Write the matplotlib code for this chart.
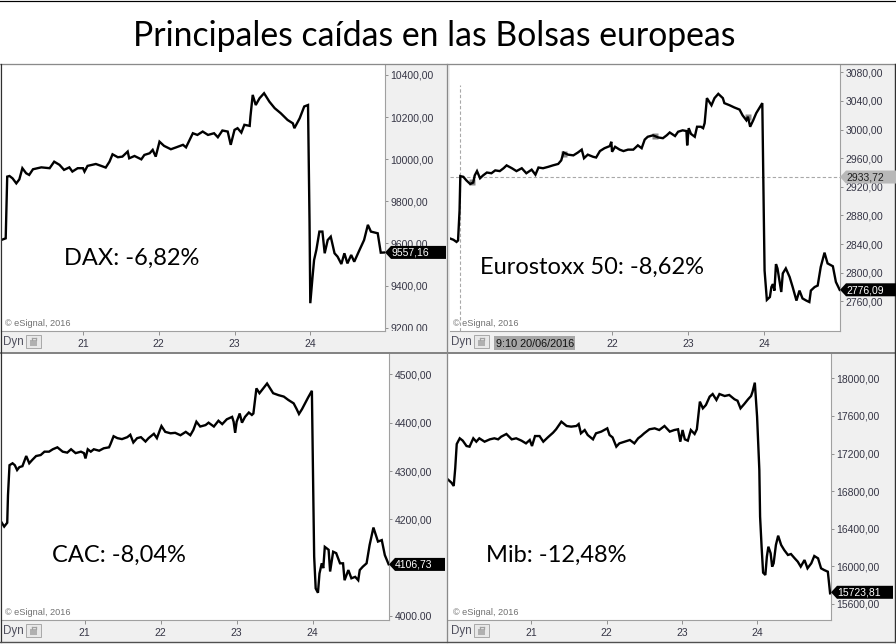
import matplotlib
matplotlib.use("Agg")
import matplotlib.pyplot as plt
import matplotlib.transforms as mtransforms
from matplotlib.patches import Rectangle, Polygon
from matplotlib.lines import Line2D

# ---------------------------------------------------------------- data
title = "Principales caídas en las Bolsas europeas"

dax_t = [19.92, 19.98, 20.00, 20.03, 20.07, 20.12, 20.16, 20.20, 20.25, 20.29,
         20.34, 20.45, 20.56, 20.62, 20.69, 20.75, 20.82, 20.86, 20.93, 21.00,
         21.02, 21.06, 21.17, 21.24, 21.30, 21.35, 21.39, 21.46, 21.52, 21.59,
         21.61, 21.68, 21.77, 21.81, 21.88, 21.92, 21.96, 22.01, 22.07, 22.16,
         22.23, 22.32, 22.36, 22.45, 22.51, 22.58, 22.65, 22.73, 22.78, 22.84,
         22.91, 22.95, 23.00, 23.04, 23.09, 23.13, 23.20, 23.21, 23.24, 23.28,
         23.33, 23.39, 23.46, 23.53, 23.61, 23.70, 23.77, 23.79, 23.86, 23.92,
         23.97, 23.99, 24.00, 24.03, 24.05, 24.08, 24.12, 24.16, 24.19, 24.23,
         24.27, 24.32, 24.36, 24.41, 24.45, 24.49, 24.54, 24.58, 24.65, 24.71,
         24.76, 24.80, 24.89, 24.93, 24.99]
dax_v = [9616, 9624, 9917, 9920, 9909, 9885, 9904, 9957, 9933, 9925,
         9952, 9961, 9957, 9988, 9973, 9949, 9961, 9941, 9957, 9957,
         9941, 9968, 9977, 9968, 9960, 9988, 10023, 10009, 10012, 10036,
         10004, 10015, 9999, 10020, 10028, 10044, 10012, 10083, 10063, 10047,
         10056, 10068, 10056, 10123, 10115, 10131, 10115, 10123, 10104, 10136,
         10131, 10068, 10139, 10147, 10126, 10163, 10158, 10202, 10305, 10257,
         10289, 10313, 10273, 10242, 10218, 10186, 10170, 10147, 10194, 10250,
         10257, 9703, 9316, 9442, 9521, 9569, 9656, 9656, 9553, 9616,
         9632, 9553, 9537, 9502, 9553, 9505, 9545, 9513, 9569, 9616,
         9688, 9656, 9648, 9556, 9557]

stx_t = [19.86, 19.91, 19.95, 19.97, 19.99, 20.00, 20.04, 20.08, 20.13, 20.17,
         20.19, 20.22, 20.26, 20.30, 20.35, 20.41, 20.46, 20.52, 20.57, 20.61,
         20.68, 20.74, 20.81, 20.87, 20.94, 20.99, 21.03, 21.09, 21.16, 21.22,
         21.29, 21.33, 21.36, 21.42, 21.49, 21.55, 21.60, 21.63, 21.68, 21.75,
         21.79, 21.84, 21.90, 21.97, 21.99, 22.00, 22.04, 22.10, 22.15, 22.21,
         22.28, 22.34, 22.39, 22.43, 22.47, 22.54, 22.61, 22.67, 22.72, 22.76,
         22.83, 22.87, 22.93, 22.98, 22.99, 23.01, 23.04, 23.09, 23.12, 23.17,
         23.20, 23.22, 23.25, 23.31, 23.35, 23.40, 23.46, 23.48, 23.55, 23.61,
         23.68, 23.72, 23.77, 23.79, 23.82, 23.86, 23.90, 23.94, 23.98, 24.00,
         24.01, 24.04, 24.08, 24.10, 24.12, 24.14, 24.16, 24.18, 24.23, 24.25,
         24.29, 24.34, 24.38, 24.43, 24.47, 24.51, 24.56, 24.60, 24.62, 24.67,
         24.71, 24.75, 24.80, 24.84, 24.91, 24.95, 25.00]
stx_v = [2848, 2846, 2843, 2845, 2887, 2935, 2934, 2929, 2924, 2926,
         2936, 2942, 2932, 2936, 2940, 2939, 2943, 2942, 2946, 2950,
         2946, 2942, 2946, 2939, 2944, 2937, 2947, 2946, 2948, 2950,
         2952, 2957, 2968, 2965, 2964, 2968, 2972, 2960, 2965, 2962,
         2961, 2970, 2974, 2977, 2983, 2969, 2976, 2972, 2970, 2972,
         2972, 2978, 2974, 2986, 2990, 2992, 2989, 2988, 2992, 2996,
         2991, 2997, 2999, 2998, 2978, 3002, 2994, 2990, 3004, 3004,
         3002, 3009, 3044, 3034, 3044, 3050, 3044, 3037, 3034, 3031,
         3028, 3020, 3013, 3018, 3004, 3013, 3023, 3030, 3037, 2878,
         2803, 2762, 2766, 2780, 2784, 2775, 2812, 2806, 2773, 2799,
         2806, 2794, 2780, 2761, 2775, 2764, 2761, 2759, 2775, 2780,
         2782, 2808, 2828, 2813, 2809, 2787, 2776]
stx_mark_t = [20.15, 21.36, 22.57, 23.79]
stx_mark_v = [2927, 2966, 2991, 3018]
cross_t = 20.0
cross_v = 2933.72
cross_label = "9:10 20/06/2016"

cac_t = [19.90, 19.94, 19.98, 19.99, 20.01, 20.05, 20.08, 20.11, 20.14, 20.18,
         20.23, 20.27, 20.31, 20.36, 20.42, 20.47, 20.53, 20.58, 20.64, 20.71,
         20.77, 20.82, 20.88, 20.95, 20.99, 21.01, 21.04, 21.08, 21.12, 21.19,
         21.25, 21.32, 21.34, 21.38, 21.43, 21.49, 21.56, 21.60, 21.64, 21.69,
         21.74, 21.80, 21.84, 21.91, 21.95, 21.99, 22.01, 22.06, 22.13, 22.19,
         22.26, 22.33, 22.39, 22.43, 22.47, 22.52, 22.59, 22.63, 22.70, 22.76,
         22.81, 22.87, 22.94, 22.96, 22.98, 23.00, 23.04, 23.07, 23.11, 23.16,
         23.20, 23.22, 23.26, 23.30, 23.35, 23.40, 23.44, 23.48, 23.55, 23.62,
         23.68, 23.75, 23.79, 23.82, 23.86, 23.90, 23.94, 23.99, 24.01, 24.02,
         24.04, 24.07, 24.09, 24.12, 24.14, 24.16, 24.21, 24.23, 24.27, 24.31,
         24.36, 24.40, 24.42, 24.47, 24.51, 24.56, 24.60, 24.62, 24.66, 24.71,
         24.75, 24.80, 24.86, 24.91, 24.95, 25.00]
cac_v = [4195, 4185, 4193, 4250, 4312, 4316, 4312, 4302, 4308, 4310,
         4331, 4316, 4323, 4331, 4333, 4340, 4340, 4345, 4349, 4340,
         4338, 4345, 4337, 4340, 4337, 4326, 4345, 4340, 4345, 4342,
         4347, 4349, 4356, 4372, 4368, 4366, 4370, 4375, 4359, 4368,
         4370, 4361, 4368, 4377, 4368, 4385, 4393, 4381, 4378, 4379,
         4374, 4381, 4374, 4385, 4402, 4392, 4395, 4400, 4392, 4404,
         4397, 4407, 4412, 4402, 4379, 4402, 4419, 4400, 4412, 4421,
         4416, 4419, 4471, 4461, 4471, 4481, 4471, 4461, 4457, 4454,
         4447, 4440, 4428, 4418, 4428, 4440, 4452, 4466, 4233, 4123,
         4057, 4048, 4088, 4109, 4099, 4143, 4137, 4092, 4133, 4130,
         4109, 4109, 4074, 4095, 4078, 4081, 4074, 4095, 4102, 4109,
         4147, 4183, 4154, 4157, 4126, 4107]

mib_t = [19.89, 19.94, 19.97, 19.99, 20.01, 20.05, 20.09, 20.14, 20.18, 20.23,
         20.27, 20.31, 20.38, 20.45, 20.51, 20.56, 20.60, 20.67, 20.74, 20.80,
         20.87, 20.93, 20.98, 21.01, 21.05, 21.11, 21.16, 21.22, 21.29, 21.33,
         21.40, 21.47, 21.53, 21.60, 21.63, 21.66, 21.71, 21.75, 21.82, 21.86,
         21.93, 22.01, 22.04, 22.08, 22.13, 22.17, 22.24, 22.31, 22.37, 22.42,
         22.46, 22.50, 22.57, 22.64, 22.70, 22.77, 22.84, 22.90, 22.95, 22.98,
         23.01, 23.04, 23.08, 23.12, 23.17, 23.20, 23.24, 23.28, 23.32, 23.37,
         23.41, 23.46, 23.50, 23.57, 23.63, 23.70, 23.74, 23.78, 23.83, 23.88,
         23.92, 23.94, 23.97, 24.00, 24.03, 24.04, 24.06, 24.08, 24.11, 24.13,
         24.15, 24.18, 24.20, 24.22, 24.25, 24.28, 24.32, 24.36, 24.41, 24.45,
         24.50, 24.54, 24.58, 24.63, 24.67, 24.72, 24.76, 24.81, 24.85, 24.89,
         24.94, 24.97]
mib_v = [16926, 16890, 16855, 17043, 17301, 17362, 17337, 17280, 17273, 17362,
         17326, 17362, 17326, 17351, 17362, 17351, 17379, 17408, 17351, 17362,
         17337, 17308, 17344, 17280, 17386, 17386, 17326, 17372, 17422, 17458,
         17539, 17493, 17486, 17493, 17514, 17415, 17450, 17397, 17351, 17415,
         17433, 17468, 17397, 17372, 17273, 17308, 17326, 17344, 17308, 17362,
         17386, 17415, 17458, 17468, 17450, 17493, 17433, 17450, 17458, 17326,
         17450, 17351, 17337, 17450, 17408, 17458, 17752, 17681, 17716, 17805,
         17833, 17770, 17833, 17812, 17823, 17777, 17762, 17681, 17727, 17777,
         17812, 17858, 17954, 17592, 17025, 16528, 16209, 15933, 15908, 16103,
         16209, 16139, 15997, 16032, 16227, 16326, 16227, 16174, 16121, 16131,
         16085, 16050, 15997, 16067, 15979, 16032, 16110, 16085, 15979, 15961,
         15943, 15713]

dax_yticks = [9200, 9400, 9600, 9800, 10000, 10200, 10400]
stx_yticks = [2760, 2800, 2840, 2880, 2920, 2960, 3000, 3040, 3080]
cac_yticks = [4000, 4200, 4300, 4400, 4500]
mib_yticks = [15600, 16000, 16400, 16800, 17200, 17600, 18000]
day_ticks = [21, 22, 23, 24]
day_labels = ["21", "22", "23", "24"]
stx_day_ticks = [22, 23, 24]
stx_day_labels = ["22", "23", "24"]

labels = ["DAX: -6,82%", "Eurostoxx 50: -8,62%", "CAC: -8,04%", "Mib: -12,48%"]
last_values = [9557.16, 2776.09, 4106.73, 15723.81]
credit = "© eSignal, 2016"

# ---------------------------------------------------------------- layout
W, H = 896, 644
fig = plt.figure(figsize=(W / 100, H / 100), dpi=100)
fig.patch.set_facecolor("white")

UI = "Liberation Sans"
BIG = "Lato"
STRIP = "#f0f0f0"
TXT = "#353545"


def fx(x):
    return x / W


def fy(y):
    return 1 - y / H


def rect(x0, y0, x1, y1, z=-5, **kw):
    fig.add_artist(Rectangle((fx(x0), fy(y1)), (x1 - x0) / W, (y1 - y0) / H,
                             transform=fig.transFigure, zorder=z, **kw))


def seg(x0, y0, x1, y1, color, lw=1.0, z=4, **kw):
    fig.add_artist(Line2D([fx(x0), fx(x1)], [fy(y0), fy(y1)], transform=fig.transFigure,
                          color=color, lw=lw * 0.72, zorder=z, **kw))


def fmt(v):
    return f"{v:.2f}".replace(".", ",")


panels = [
    dict(t=dax_t, v=dax_v, region=(0, 64, 447, 353), plot=(1, 65, 385, 331),
         xlim=(19.918, 24.986), ylim=(9184, 10447), yticks=dax_yticks,
         xt=(day_ticks, day_labels),
         label=labels[0], lpos=(64, 265), last=last_values[0], tagw=61),
    dict(t=stx_t, v=stx_v, region=(448, 64, 896, 353), plot=(450, 65, 840, 331),
         xlim=(19.864, 25.004), ylim=(2718.5, 3090.3), yticks=stx_yticks,
         xt=(stx_day_ticks, stx_day_labels),
         label=labels[1], lpos=(480, 274), last=last_values[1], tagw=56),
    dict(t=cac_t, v=cac_v, region=(0, 353, 447, 642), plot=(1, 354, 389, 620),
         xlim=(19.898, 25.005), ylim=(3991.7, 4542.1), yticks=cac_yticks,
         xt=(day_ticks, day_labels),
         label=labels[2], lpos=(52, 562), last=last_values[2], tagw=56),
    dict(t=mib_t, v=mib_v, region=(448, 353, 896, 642), plot=(448, 354, 831, 620),
         xlim=(19.894, 24.982), ylim=(15429.1, 18258.8), yticks=mib_yticks,
         xt=(day_ticks, day_labels),
         label=labels[3], lpos=(486, 562), last=last_values[3], tagw=62),
]


def tag(ax, value, text, width, fc, tc):
    trans = mtransforms.blended_transform_factory(ax.transAxes, ax.transData)
    x0, y0 = trans.transform((1.0, value))
    h = 6.5
    verts = [(x0, y0), (x0 + 6, y0 + h), (x0 + width, y0 + h),
             (x0 + width, y0 - h), (x0 + 6, y0 - h)]
    fig.add_artist(Polygon(verts, closed=True, transform=mtransforms.IdentityTransform(),
                           facecolor=fc, edgecolor="none", zorder=6))
    fig.text(x0 + 6, y0 - 0.5, text, transform=mtransforms.IdentityTransform(),
             ha="left", va="center", fontsize=7.5, family=UI, color=tc, zorder=7)


axes = []
for i, p in enumerate(panels):
    rx0, ry0, rx1, ry1 = p["region"]
    px0, py0, px1, py1 = p["plot"]
    rect(rx0, ry0, rx1, ry1, facecolor=STRIP, edgecolor="none")
    ax = fig.add_axes([fx(px0), fy(py1), (px1 - px0) / W, (py1 - py0) / H])
    ax.set_facecolor("white")
    for s in ("top", "left"):
        ax.spines[s].set_visible(False)
    for s in ("right", "bottom"):
        ax.spines[s].set_color("#a0a0a0")
        ax.spines[s].set_linewidth(0.8)
    ax.set_xlim(*p["xlim"])
    ax.set_ylim(*p["ylim"])
    ax.yaxis.tick_right()
    ax.set_yticks(p["yticks"], [fmt(v) for v in p["yticks"]])
    ax.set_xticks(*p["xt"])
    ax.tick_params(axis="y", direction="out", length=2.5, width=0.7, color="#909090",
                   pad=1.5, labelsize=7.5, labelcolor=TXT)
    ax.tick_params(axis="x", direction="out", length=3, width=0.7, color="#909090",
                   pad=2.5, labelsize=7.5, labelcolor=TXT)
    for lab in ax.get_xticklabels() + ax.get_yticklabels():
        lab.set_family(UI)
    clip = mtransforms.Bbox.from_extents(0, H - py1, W, H)
    for tk in ax.yaxis.get_major_ticks():
        tk.label2.set_clip_box(clip)
        tk.label2.set_clip_on(True)

    ax.plot(p["t"], p["v"], color="black", lw=1.7, solid_joinstyle="miter", zorder=3)

    fig.text(fx(p["lpos"][0]), fy(p["lpos"][1]), p["label"], family=BIG, fontsize=17,
             color="black", ha="left", va="baseline", zorder=5)
    fig.text(fx(px0 + 4 if rx0 == 0 else rx0 + 5), fy(py1 - 5), credit, family=UI,
             fontsize=6.6, color="#707070", ha="left", va="baseline", zorder=5)
    # bottom strip: Dyn + lock icon
    fig.text(fx(rx0 + 3), fy(py1 + 14), "Dyn", family=UI, fontsize=8.4,
             color="#50505e", ha="left", va="baseline", zorder=5)
    ix = rx0 + 26
    rect(ix, py1 + 4, ix + 15, py1 + 17, z=5, facecolor="#e8e8e8", edgecolor="#a8a8a8",
         linewidth=0.7)
    rect(ix + 4, py1 + 9, ix + 11, py1 + 15, z=6, facecolor="#b0b0b0", edgecolor="none")
    seg(ix + 5.5, py1 + 9, ix + 5.5, py1 + 7, "#a0a0a0", lw=1.2, z=6)
    seg(ix + 5.5, py1 + 7, ix + 9.5, py1 + 7, "#a0a0a0", lw=1.2, z=6)
    seg(ix + 9.5, py1 + 7, ix + 9.5, py1 + 9, "#a0a0a0", lw=1.2, z=6)
    axes.append(ax)

# Eurostoxx extras: markers and crosshair
ax = axes[1]
ax.plot(stx_mark_t, stx_mark_v, ls="none", marker="s", ms=5, color="#8a8a8a",
        mec="none", zorder=2)
ax.axvline(cross_t, ymax=0.925, color="#a8a8a8", lw=0.8, ls=(0, (3, 2)), zorder=1)
ax.axhline(cross_v, color="#a8a8a8", lw=0.8, ls=(0, (3, 2)), zorder=1)
tag(ax, cross_v, fmt(cross_v), 56, "#b8b8b8", "#1e1e1e")
rect(494, 336, 575, 350, z=5, facecolor="#a6a6a6", edgecolor="none")
fig.text(fx(496), fy(347), cross_label, family=UI, fontsize=7.8, color="#111111",
         ha="left", va="baseline", zorder=6)

for ax, p in zip(axes, panels):
    tag(ax, p["last"], fmt(p["last"]), p["tagw"], "black", "white")

# frame lines
seg(0, 0.5, 896, 0.5, "#000000", lw=1.2)
seg(0, 63.5, 896, 63.5, "#8a8a8a", lw=1.3)
seg(0, 353, 896, 353, "#6a6a6a", lw=1.6)
seg(447, 64, 447, 642, "#8a8a8a", lw=1.3)
seg(0.5, 64, 0.5, 642, "#303030", lw=1.2)
seg(895.3, 64, 895.3, 642, "#303030", lw=1.4)
seg(0, 641.5, 896, 641.5, "#505050", lw=1.4)

fig.text(fx(434), fy(46), title, family=BIG, fontsize=24.3, color="black",
         ha="center", va="baseline")

fig.savefig("out.png", dpi=100, facecolor="white")
